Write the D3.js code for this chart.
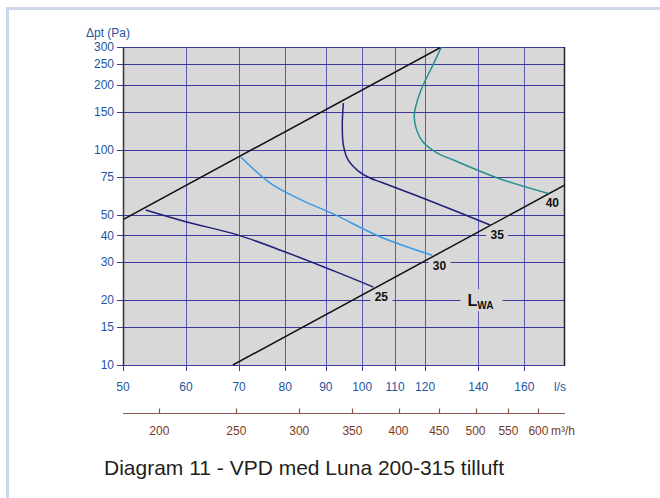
<!DOCTYPE html>
<html>
<head>
<meta charset="utf-8">
<script src="https://cdn.jsdelivr.net/npm/d3@7"></script>
<style>
  html, body { margin: 0; padding: 0; background: #ffffff; }
  svg { display: block; font-family: "Liberation Sans", Arial, Helvetica, sans-serif; }
</style>
</head>
<body>
<svg id="chart" width="660" height="498"></svg>
<script>
// ---------- data ----------
const flowTicks = [50, 60, 70, 80, 90, 100, 110, 120, 140, 160];          // l/s
const pressureTicks = [10, 15, 20, 30, 40, 50, 75, 100, 150, 200, 250, 300]; // Pa
const m3hTicks = [200, 250, 300, 350, 400, 450, 500, 550, 600];            // m³/h

// boundary lines (Δp ∝ q²)
const upperLimit = [[50, 47.4], [125.8, 300]];
const lowerLimit = [[68.75, 10], [180, 68.6]];

// sound-level curves: [l/s, Pa]
const curve25 = [[53.4, 52.5], [60, 46.3], [70, 40], [80, 33.5], [90, 28.3], [100, 24.2], [103.3, 23]];
const curve30 = [[70.4, 92.3], [76.6, 70.0], [83.4, 59.0], [92.5, 49.8], [105.5, 39.3], [122.6, 32.3]];
const curve35 = [[94.7, 164.8], [94.4, 130], [94.7, 105], [96.0, 89.6], [98.9, 79.6], [102.3, 73.9], [105.5, 70.8], [121.8, 57.8], [144.9, 44.7]];
const curve40 = [[125.8, 300], [122.6, 245], [119.0, 195.5], [117.4, 170], [116.3, 145], [116.9, 126], [119.3, 108.6], [124.3, 96.5], [130.2, 89.6], [148.0, 73.9], [171.5, 62.6]];

const curveLabels = ["25", "30", "35", "40"];
const lwaPosition = [140.5, 20];

// ---------- layout ----------
const svg = d3.select("#chart");
const pLeft = 123, pRight = 565, pTop = 47, pBottom = 365;

const x = d3.scaleLog().domain([50, 180]).range([pLeft, pRight]);
const y = d3.scaleLog().domain([10, 300]).range([pBottom, pTop]);
const xm = d3.scaleLog().domain([50 * 3.6, 180 * 3.6]).range([pLeft, pRight]);

const blue = "#24559f";
const brown = "#7a3a22";
const grid = "#3a3a9c";
const vgrid = "#5c5cb0";

// outer frame
svg.append("line").attr("x1", 7.5).attr("x2", 660).attr("y1", 8.5).attr("y2", 8.5)
  .attr("stroke", "#cfd7eb").attr("stroke-width", 3);
svg.append("line").attr("x1", 7.5).attr("x2", 7.5).attr("y1", 7).attr("y2", 498)
  .attr("stroke", "#cfd7eb").attr("stroke-width", 3);

// plot background
svg.append("rect").attr("x", pLeft).attr("y", pTop).attr("width", pRight - pLeft).attr("height", pBottom - pTop)
  .attr("fill", "#d8d8d8");

// gridlines
svg.append("g").selectAll("line").data(flowTicks.filter(d => d > 50)).join("line")
  .attr("x1", d => Math.round(x(d)) + 0.5).attr("x2", d => Math.round(x(d)) + 0.5)
  .attr("y1", pTop).attr("y2", pBottom)
  .attr("stroke", vgrid).attr("stroke-width", 1);
svg.append("g").selectAll("line").data(pressureTicks).join("line")
  .attr("x1", pLeft - 6).attr("x2", pRight)
  .attr("y1", d => Math.round(y(d)) + 0.5).attr("y2", d => Math.round(y(d)) + 0.5)
  .attr("stroke", grid).attr("stroke-width", 1.1);

// y tick labels
svg.append("g").selectAll("text").data(pressureTicks).join("text")
  .attr("x", 114).attr("y", d => y(d)).attr("dy", "0.35em")
  .attr("text-anchor", "end").attr("font-size", 12).attr("fill", blue)
  .text(d => d);
svg.append("text").attr("x", 86).attr("y", 37).attr("font-size", 12).attr("fill", blue).text("\u0394pt (Pa)");

// x axis (l/s) ticks and labels
svg.append("g").selectAll("line").data(flowTicks).join("line")
  .attr("x1", d => Math.round(x(d)) + 0.5).attr("x2", d => Math.round(x(d)) + 0.5)
  .attr("y1", pBottom).attr("y2", pBottom + 6)
  .attr("stroke", grid).attr("stroke-width", 1);
svg.append("g").selectAll("text").data(flowTicks).join("text")
  .attr("x", d => x(d)).attr("y", 391)
  .attr("text-anchor", "middle").attr("font-size", 12).attr("fill", blue)
  .text(d => d);
svg.append("text").attr("x", 554).attr("y", 391).attr("font-size", 12).attr("fill", blue).text("l/s");

// secondary axis m³/h
svg.append("line").attr("x1", pLeft).attr("x2", pRight).attr("y1", 413.5).attr("y2", 413.5)
  .attr("stroke", "#8a5a48").attr("stroke-width", 1.2);
svg.append("g").selectAll("line").data(m3hTicks).join("line")
  .attr("x1", d => Math.round(xm(d)) + 0.5).attr("x2", d => Math.round(xm(d)) + 0.5)
  .attr("y1", 408.5).attr("y2", 413.5)
  .attr("stroke", "#8a5a48").attr("stroke-width", 1.2);
svg.append("g").selectAll("text").data(m3hTicks).join("text")
  .attr("x", d => xm(d)).attr("y", 435)
  .attr("text-anchor", "middle").attr("font-size", 12).attr("fill", brown)
  .text(d => d);
svg.append("text").attr("x", 551).attr("y", 435).attr("font-size", 12).attr("fill", brown).text("m\u00b3/h");

// label background boxes (interrupt gridlines)
const curves = [curve25, curve30, curve35, curve40];
const labelOffsets = [[8, 10], [7, 10], [7, 10], [4, 9]];
const labelG = svg.append("g");
curves.forEach((c, i) => {
  const end = c[c.length - 1];
  const cx = x(end[0]) + labelOffsets[i][0];
  const cy = y(end[1]) + labelOffsets[i][1];
  labelG.append("rect").attr("x", cx - 11).attr("y", cy - 7).attr("width", 22).attr("height", 14).attr("fill", "#d8d8d8");
});
const lwaX = x(lwaPosition[0]), lwaY = y(lwaPosition[1]);
labelG.append("rect").attr("x", lwaX - 19).attr("y", lwaY - 11).attr("width", 42).attr("height", 22).attr("fill", "#d8d8d8");

// lines
const line = d3.line().x(d => x(d[0])).y(d => y(d[1]));
const smooth = d3.line().x(d => x(d[0])).y(d => y(d[1])).curve(d3.curveCatmullRom.alpha(0.5));

svg.append("defs").append("clipPath").attr("id", "clip")
  .append("rect").attr("x", pLeft).attr("y", pTop).attr("width", pRight - pLeft).attr("height", pBottom - pTop);
const plot = svg.append("g").attr("clip-path", "url(#clip)");

plot.append("path").attr("d", line(upperLimit)).attr("fill", "none").attr("stroke", "#111").attr("stroke-width", 1.5);
plot.append("path").attr("d", line(lowerLimit)).attr("fill", "none").attr("stroke", "#111").attr("stroke-width", 1.5);

const curveColors = ["#1f1f7a", "#3a9ae6", "#1f1f7a", "#23908f"];
curves.forEach((c, i) => {
  plot.append("path").attr("d", smooth(c)).attr("fill", "none")
    .attr("stroke", curveColors[i]).attr("stroke-width", 1.5);
});

// curve labels
curves.forEach((c, i) => {
  const end = c[c.length - 1];
  svg.append("text")
    .attr("x", x(end[0]) + labelOffsets[i][0]).attr("y", y(end[1]) + labelOffsets[i][1])
    .attr("dy", "0.36em").attr("text-anchor", "middle")
    .attr("font-size", 12).attr("font-weight", "bold").attr("fill", "#111")
    .text(curveLabels[i]);
});
const lwa = svg.append("text").attr("x", lwaX - 12).attr("y", lwaY + 6)
  .attr("font-weight", "bold").attr("fill", "#111");
lwa.append("tspan").attr("font-size", 16).text("L");
lwa.append("tspan").attr("font-size", 10).attr("dy", 3).text("WA");

// plot borders
svg.append("line").attr("x1", pLeft + 0.5).attr("x2", pLeft + 0.5).attr("y1", pTop).attr("y2", pBottom + 1)
  .attr("stroke", "#333").attr("stroke-width", 1.5);
svg.append("line").attr("x1", pRight - 0.5).attr("x2", pRight - 0.5).attr("y1", pTop).attr("y2", pBottom + 1)
  .attr("stroke", "#222").attr("stroke-width", 1.5);

// title
svg.append("text").attr("x", 104).attr("y", 475).attr("font-size", 21).attr("fill", "#231f20")
  .text("Diagram 11 - VPD med Luna 200-315 tilluft");
</script>
</body>
</html>
